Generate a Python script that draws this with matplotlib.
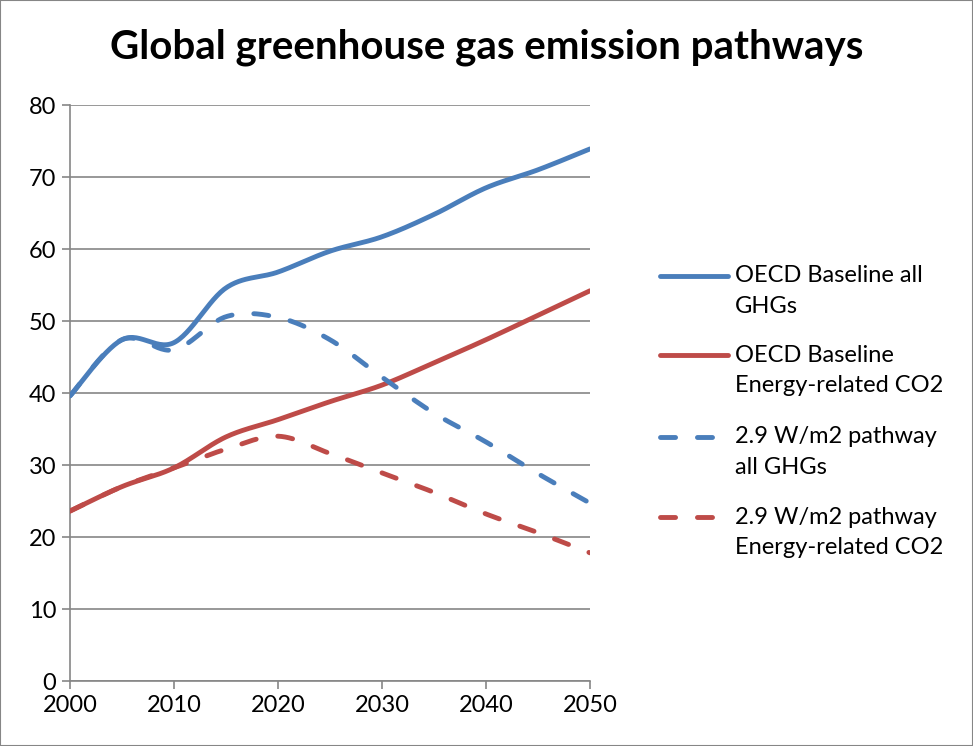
import numpy as np
import matplotlib
matplotlib.use("Agg")
import matplotlib.pyplot as plt
from matplotlib.lines import Line2D

years = [2000, 2005, 2010, 2015, 2020, 2025, 2030, 2035, 2040, 2045, 2050]
baseline_ghg = [39.6, 47.4, 47.0, 54.6, 56.8, 59.7, 61.7, 64.8, 68.5, 71.0, 73.9]
baseline_co2 = [23.6, 27.0, 29.6, 33.9, 36.3, 38.8, 41.1, 44.2, 47.4, 50.8, 54.2]
pathway_ghg = [39.6, 47.4, 46.0, 50.6, 50.5, 47.4, 42.2, 37.2, 33.2, 28.8, 24.7]
pathway_co2 = [23.6, 27.0, 29.6, 32.2, 34.0, 31.6, 28.9, 26.2, 23.2, 20.6, 17.8]
labels = ["OECD Baseline all\nGHGs", "OECD Baseline\nEnergy-related CO2",
          "2.9 W/m2 pathway\nall GHGs", "2.9 W/m2 pathway\nEnergy-related CO2"]
title = "Global greenhouse gas emission pathways"
yticks = [0, 10, 20, 30, 40, 50, 60, 70, 80]
xticks = [2000, 2010, 2020, 2030, 2040, 2050]

BLUE = "#4A7EBB"
RED = "#BE4B48"
GRID = "#868686"
LW = 3.5
DASH = (3.1, 4.5)


def smooth(x, y, n=30):
    x = np.asarray(x, float); y = np.asarray(y, float)
    P = np.column_stack([x, y])
    out = [P[0]]
    for i in range(len(P) - 1):
        p0 = P[i - 1] if i > 0 else P[i]
        p1 = P[i]; p2 = P[i + 1]
        p3 = P[i + 2] if i + 2 < len(P) else P[i + 1]
        c1 = p1 + (p2 - p0) / 6.0
        c2 = p2 - (p3 - p1) / 6.0
        t = np.linspace(0, 1, n)[1:, None]
        b = (1 - t) ** 3 * p1 + 3 * (1 - t) ** 2 * t * c1 + 3 * (1 - t) * t ** 2 * c2 + t ** 3 * p2
        out.extend(b)
    out = np.array(out)
    return out[:, 0], out[:, 1]


plt.rcParams['font.family'] = ['Lato', 'DejaVu Sans']
fig = plt.figure(figsize=(9.73, 7.46), dpi=100)
W, H = 973, 746
ax = fig.add_axes([70 / W, (H - 681) / H, (590 - 70) / W, (681 - 105) / H])

series = [(baseline_ghg, BLUE, '-'), (baseline_co2, RED, '-'),
          (pathway_ghg, BLUE, '--'), (pathway_co2, RED, '--')]
for vals, col, ls in series:
    sx, sy = smooth(years, vals)
    if ls == '-':
        ax.plot(sx, sy, color=col, lw=LW, solid_capstyle='round', zorder=3)
    else:
        ax.plot(sx, sy, color=col, lw=LW, dashes=DASH, dash_capstyle='round', zorder=3)

ax.set_xlim(2000, 2050)
ax.set_ylim(0, 80)
ax.set_xticks(xticks)
ax.set_yticks(yticks)
ax.yaxis.grid(True, color=GRID, lw=1.2)
ax.set_axisbelow(True)
for s in ['top', 'right']:
    ax.spines[s].set_visible(False)
for s in ['left', 'bottom']:
    ax.spines[s].set_color(GRID)
    ax.spines[s].set_linewidth(1.2)
ax.tick_params(axis='both', colors=GRID, length=6, width=1.2, labelsize=17,
               labelcolor='black', direction='out')
ax.tick_params(axis='x', pad=4)
ax.tick_params(axis='y', pad=4)

fig.text(487 / W, 1 - 47 / H, title, ha='center', va='center',
         fontsize=29, fontweight='bold')

# legend
leg_y = [276, 355, 437, 517]
for (vals, col, ls), lab, yy in zip(series, labels, leg_y):
    yf = 1 - yy / H
    if ls == '-':
        fig.add_artist(Line2D([660 / W, 728 / W], [yf, yf], color=col, lw=LW,
                              solid_capstyle='round'))
    else:
        fig.add_artist(Line2D([660 / W, 728 / W], [yf, yf], color=col, lw=LW,
                              dashes=DASH, dash_capstyle='round'))
    for k, line in enumerate(lab.split("\n")):
        fig.text(735 / W, 1 - (yy + 31 * k) / H, line, ha='left', va='center',
                 fontsize=17)

fig.add_artist(plt.Rectangle((0, 0), 1, 1, transform=fig.transFigure, fill=False,
                             edgecolor=GRID, lw=1.5))
fig.savefig("out.png", dpi=100)
